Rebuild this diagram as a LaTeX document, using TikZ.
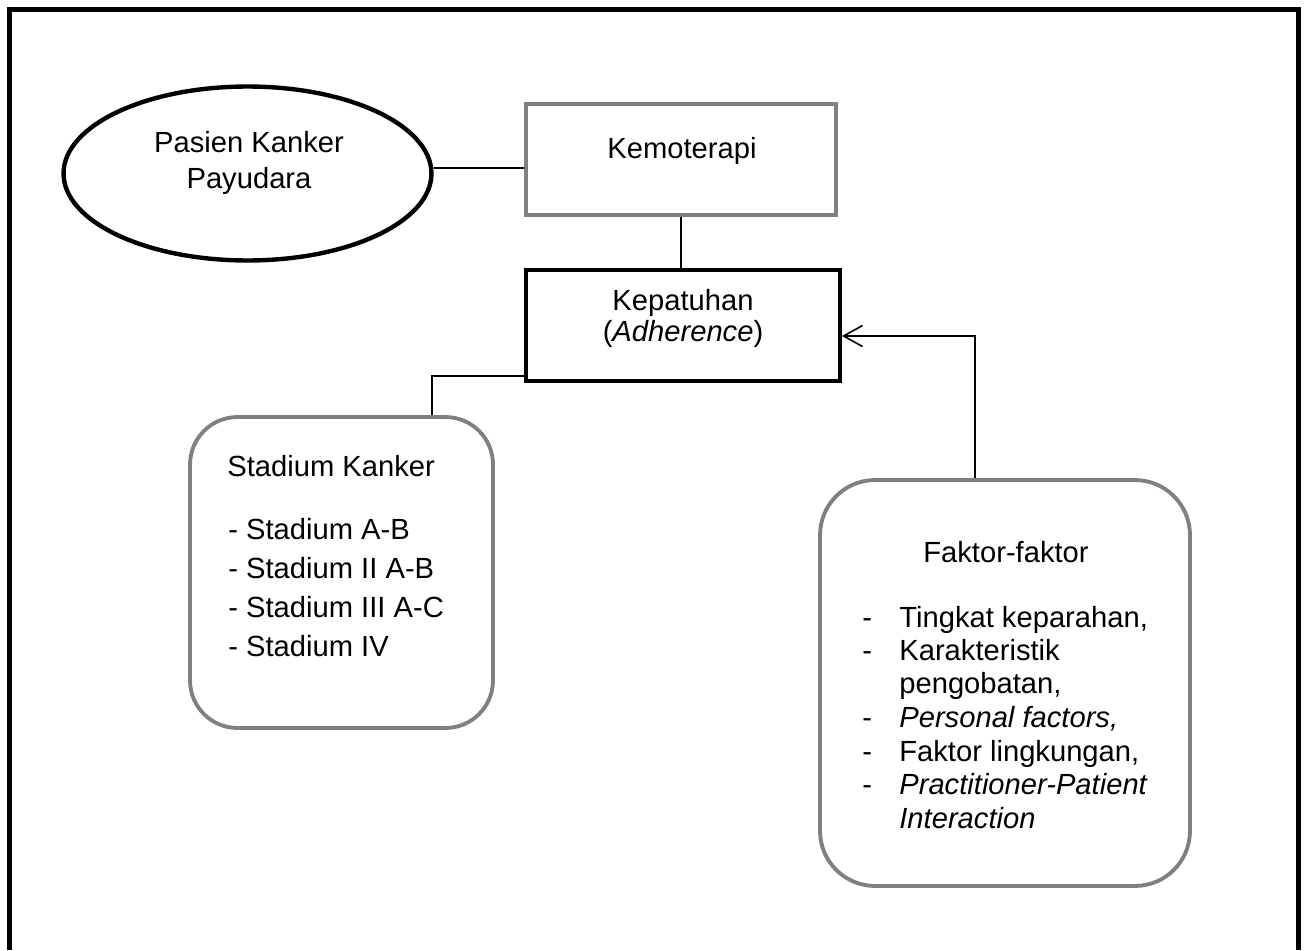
\documentclass[tikz,border=0pt]{standalone}
\usepackage{fontspec}
\setmainfont{Liberation Sans}
\usetikzlibrary{shapes.geometric,arrows.meta,calc}
\definecolor{boxgray}{RGB}{128,128,128}

\begin{document}
\begin{tikzpicture}[x=0.02cm,y=-0.02cm,
  every node/.style={font=\fontsize{16.6}{20}\selectfont},
  shapebox/.style={draw,line width=2.2pt,inner sep=0pt},
  graybox/.style={shapebox,draw=boxgray},
  roundbox/.style={graybox,rounded corners=0.95cm},
  txt/.style={inner sep=0pt,anchor=base},
  txtl/.style={inner sep=0pt,anchor=base west},
  link/.style={line width=0.9pt},
  arr/.style={link,-{Straight Barb[length=0.38cm,width=0.42cm,line width=0.9pt]}}]
  \useasboundingbox (0,0) rectangle (1304,950);
  % outer frame, open at the bottom
  \draw[line width=0.1cm] (9.5,950) -- (9.5,9.5) -- (1298,9.5) -- (1298,950);

  % shapes
  \node[shapebox,ellipse,line width=2.5pt,minimum width=7.36cm,minimum height=3.48cm] (pasien) at (247.5,173.5) {};
  \node[graybox,minimum width=6.2cm,minimum height=2.22cm] (kemo) at (681,159.5) {};
  \node[shapebox,minimum width=6.28cm,minimum height=2.22cm] (kep) at (683,325.5) {};
  \node[roundbox,minimum width=6.06cm,minimum height=6.22cm] (stad) at (341.5,572.5) {};
  \node[roundbox,rounded corners=1.1cm,minimum width=7.4cm,minimum height=8.12cm] (fak) at (1005,683) {};

  % texts
  \node[txt] (pasien1) at (249,152) {Pasien Kanker};
  \node[txt] (pasien2) at (249,188) {Payudara};
  \node[txt] (kemotxt) at (682,158) {Kemoterapi};
  \node[txt] (kep1) at (683,310) {Kepatuhan};
  \node[txt] (kep2) at (683,341) {(\textit{Adherence})};

  \node[txtl] (stadtitle) at (227,476) {Stadium Kanker};
  \foreach \y/\t [count=\i] in {539/Stadium A-B,578/Stadium II A-B,617/Stadium III A-C,656/Stadium IV}
    \node[txtl] (stad\i) at (228,\y) {- \t};

  \node[txtl] (faktitle) at (923,562) {Faktor-faktor};
  \foreach \y [count=\i] in {627,660,727,761,794}
    \node[txtl] (dash\i) at (862,\y) {-};
  \node[txtl] (fak1) at (899,627) {Tingkat keparahan,};
  \node[txtl] (fak2) at (899,660) {Karakteristik};
  \node[txtl] (fak3) at (899,693) {pengobatan,};
  \node[txtl] (fak4) at (899,727) {\textit{Personal factors,}};
  \node[txtl] (fak5) at (899,761) {Faktor lingkungan,};
  \node[txtl] (fak6) at (899,794) {\textit{Practitioner-Patient}};
  \node[txtl] (fak7) at (899,828) {\textit{Interaction}};

  % connectors
  \draw[link] ($(pasien.east)+(0,-5.5)$) -- ($(kemo.west)+(0,8.5)$);
  \draw[link] (kemo.south) -- (kemo.south |- kep.north);
  \draw[link] ($(kep.south west)+(0,-7)$) -| ($(stad.north)+(90.5,0)$);
  \draw[arr] ($(fak.north)+(-30,0)$) |- ($(kep.east)+(0,10.5)$);
\end{tikzpicture}
\end{document}
